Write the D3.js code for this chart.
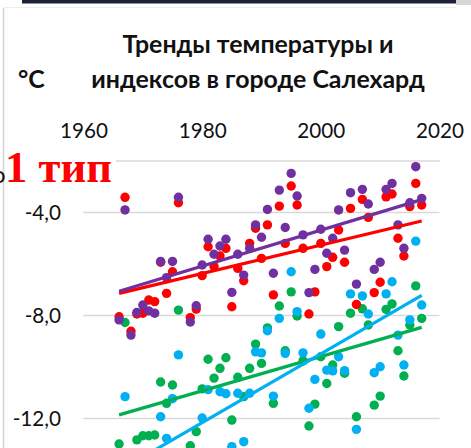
<!DOCTYPE html>
<html>
<head>
<meta charset="utf-8">
<script src="https://cdn.jsdelivr.net/npm/d3@7"></script>
<style>
  html, body { margin: 0; padding: 0; background: #ffffff; overflow: hidden; }
  svg { display: block; }
</style>
</head>
<body>
<svg id="chart" width="471" height="448"></svg>
<script>
// Years of observation (no record for 1977)
const years = [1966, 1967, 1968, 1969, 1970, 1971, 1972, 1973, 1974, 1975, 1976,
  1978, 1979, 1980, 1981, 1982, 1983, 1984, 1985, 1986, 1987, 1988, 1989, 1990,
  1991, 1992, 1993, 1994, 1995, 1996, 1997, 1998, 1999, 2000, 2001, 2002, 2003,
  2004, 2005, 2006, 2007, 2008, 2009, 2010, 2011, 2012, 2013, 2014, 2015, 2016, 2017];

// Annual values, °C
const purpleValues = [-8.19, -3.92, -8.78, -7.90, -7.61, -7.84, -7.93, -5.92, -6.55, -5.92, -3.43,
  -8.27, -7.64, -6.06, -5.06, -5.64, -5.32, -5.06, -7.12, -5.64, -6.45, -5.41, -4.50, -4.98,
  -3.90, -6.38, -3.15, -4.60, -2.50, -3.38, -4.89, -7.13, -6.23, -4.67, -5.60, -5.02, -3.92,
  -5.48, -3.25, -6.80, -3.12, -3.69, -6.23, -5.95, -3.12, -2.89, -4.50, -5.41, -3.64, -2.24, -3.47];

const redValues = [-8.07, -3.43, -8.63, -7.96, -7.93, -7.42, -7.48, -5.95, -7.16, -6.32, -3.64,
  -8.10, -7.77, -6.47, -5.35, -6.12, -5.71, -5.41, -7.68, -6.19, -6.67, -5.22, -4.63, -5.80,
  -4.50, -7.22, -3.77, -5.22, -2.99, -3.73, -5.41, -7.96, -7.10, -5.22, -6.12, -5.76, -4.70,
  -5.95, -3.86, -7.59, -3.51, -4.21, -7.13, -6.73, -3.41, -3.30, -5.02, -5.71, -3.79, -2.89, -3.73];

const greenValues = [-13.01, -8.29, -13.50, -12.85, -12.69, -12.69, -12.66, -10.60, -11.43, -10.72, -7.81,
  -13.08, -12.53, -10.87, -9.72, -10.45, -10.07, -9.66, -12.08, -10.42, -11.17, -10.07, -9.13, -9.88,
  -8.50, -11.43, -7.65, -9.39, -7.10, -8.04, -9.78, -12.31, -11.46, -9.62, -10.66, -9.94, -8.45,
  -10.26, -7.93, -11.95, -7.76, -8.39, -11.50, -11.15, -7.78, -7.57, -9.39, -10.37, -8.39, -6.87, -8.13];

const cyanValues = [-14.50, -11.17, -15.00, -13.60, -14.20, -15.30, -13.90, -11.95, -12.79, -11.25, -9.55,
  -13.50, -14.00, -12.00, -10.90, -13.70, -10.98, -11.06, -13.11, -11.04, -12.92, -11.04, -9.43, -9.47,
  -8.61, -11.15, -8.13, -9.49, -6.32, -7.87, -9.47, -11.62, -10.50, -8.74, -10.14, -10.17, -9.62,
  -10.16, -7.18, -12.44, -7.26, -7.96, -10.24, -10.01, -7.18, -6.71, -8.78, -9.94, -8.19, -5.13, -7.61];

// Linear trends: value at the first and the last year
const trendYears = [1966, 2017];
const purpleTrend = [-7.08, -3.52];
const redTrend = [-7.16, -4.35];
const greenTrend = [-11.88, -8.48];
const cyanTrend = [-14.05, -7.24];

// Axis ticks and texts
const yearTicks = [1960, 1980, 2000, 2020];
const tempTicks = [-12, -8, -4];
const titleLines = ["Тренды температуры и", "индексов в городе Салехард"];
const unitLabel = "°C";
const typeLabel = "1 тип";

const colors = { purple: "#7030A0", red: "#FF0000", green: "#00B050", cyan: "#00B0F0" };

const svg = d3.select("#chart");
const x = d3.scaleLinear().domain([1960, 2020]).range([83.5, 439.5]);
const y = d3.scaleLinear().domain([-16, -2]).range([521, 160.5]);

// scale a text's font size so it spans the given width
function fitWidth(sel, width) {
  const node = sel.node();
  const base = parseFloat(sel.attr("font-size"));
  const w = node.getComputedTextLength();
  const size = base * width / w;
  sel.attr("font-size", size);
  return size;
}

// slide frame
svg.append("rect").attr("x", 22).attr("y", 0).attr("width", 434).attr("height", 3.5).attr("fill", "#1c2238");
svg.append("rect").attr("x", 456).attr("y", 0).attr("width", 15).attr("height", 5).attr("fill", "#d6d6d6");
svg.append("line").attr("x1", 3.5).attr("x2", 3.5).attr("y1", 8).attr("y2", 448)
  .attr("stroke", "#d4d4d4").attr("stroke-width", 1.5);
svg.append("line").attr("x1", 3.5).attr("x2", 456).attr("y1", 7.5).attr("y2", 7.5)
  .attr("stroke", "#ececec").attr("stroke-width", 1);

// title
const title = svg.append("g").attr("font-family", "Lato, 'Open Sans', sans-serif")
  .attr("font-weight", 700).attr("fill", "#111");
const t1 = title.append("text").attr("x", 258).attr("y", 52.7).attr("text-anchor", "middle")
  .attr("font-size", 24).text(titleLines[0]);
const titleSize = fitWidth(t1, 271);
title.append("text").attr("x", 258).attr("y", 88.3).attr("text-anchor", "middle")
  .attr("font-size", titleSize).text(titleLines[1]);
title.append("text").attr("x", 18).attr("y", 88.3).attr("font-size", titleSize).text(unitLabel);

// value axis with gridlines
const yAxis = svg.append("g").attr("transform", `translate(${x(1960)},0)`)
  .call(d3.axisLeft(y).tickValues(tempTicks).tickSize(-(x(2020) - x(1960))).tickPadding(22.5)
    .tickFormat(d => d.toFixed(1).replace(".", ",")));
yAxis.select(".domain").remove();
yAxis.selectAll(".tick line").attr("stroke", "#d9d9d9").attr("stroke-width", 1.4);

// year axis along the top
const xAxis = svg.append("g").attr("transform", `translate(0,${y(-2)})`)
  .call(d3.axisTop(x).tickValues(yearTicks).tickSize(0).tickPadding(22.2).tickFormat(d3.format("d")));
xAxis.select(".domain").attr("stroke", "#d9d9d9").attr("stroke-width", 1.4);

const tickTexts = svg.selectAll(".tick text").attr("font-family", "Lato, 'Open Sans', sans-serif")
  .attr("fill", "#111").attr("font-size", 20);
const firstYear = xAxis.select(".tick text");
const tickSize = fitWidth(firstYear, 48);
tickTexts.attr("font-size", tickSize);
yAxis.selectAll(".tick text").attr("dy", "0.35em");

// scatter points
const series = [
  { values: greenValues, color: colors.green },
  { values: cyanValues, color: colors.cyan },
  { values: redValues, color: colors.red },
  { values: purpleValues, color: colors.purple }
];
const plot = svg.append("g");
series.forEach(s => {
  plot.append("g").selectAll("circle")
    .data(years.map((yr, i) => ({ yr, v: s.values[i] })))
    .join("circle")
    .attr("cx", d => x(d.yr)).attr("cy", d => y(d.v)).attr("r", 4.7)
    .attr("fill", s.color);
});

// trend lines
const trends = [
  { values: greenTrend, color: colors.green },
  { values: redTrend, color: colors.red },
  { values: purpleTrend, color: colors.purple },
  { values: cyanTrend, color: colors.cyan }
];
const line = d3.line().x(d => x(d.yr)).y(d => y(d.v));
trends.forEach(t => {
  plot.append("path")
    .datum(trendYears.map((yr, i) => ({ yr, v: t.values[i] })))
    .attr("d", line).attr("fill", "none").attr("stroke", t.color)
    .attr("stroke-width", 3.2).attr("stroke-linecap", "butt");
});

// type label box (covers the top value label, a letter of a neighbouring caption peeks out at the edge)
svg.append("text").attr("x", 5.5).attr("y", 183).attr("text-anchor", "end")
  .attr("font-family", "Lato, sans-serif").attr("font-size", 24).attr("fill", "#111").text("о");
svg.append("rect").attr("x", 6).attr("y", 141).attr("width", 110).attr("height", 48).attr("fill", "#fff");
const typeText = svg.append("text").attr("x", 5).attr("y", 182)
  .attr("font-family", "'Liberation Serif', 'Times New Roman', serif").attr("font-weight", 700)
  .attr("font-size", 48).attr("fill", "#FF0000").text(typeLabel);
fitWidth(typeText, 107);
</script>
</body>
</html>
